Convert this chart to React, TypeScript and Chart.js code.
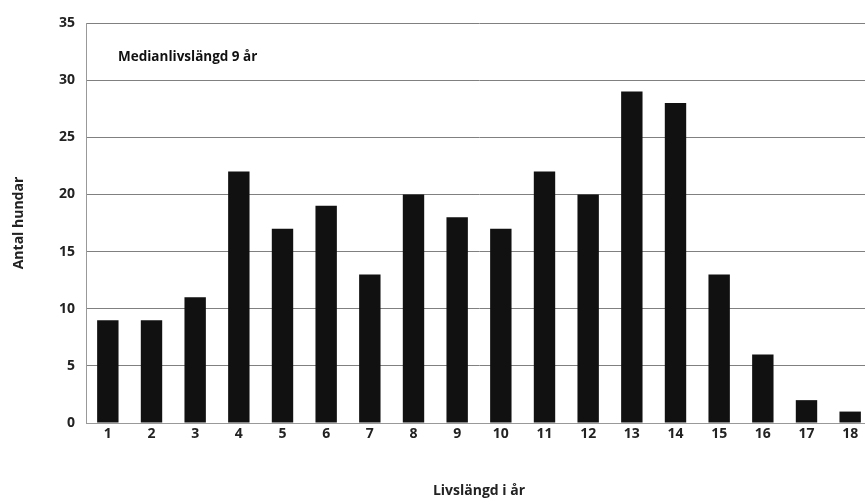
import React, { useEffect, useRef } from "react";
import { Chart, registerables } from "chart.js";

Chart.register(...registerables);

const categories = ["1", "2", "3", "4", "5", "6", "7", "8", "9", "10", "11", "12", "13", "14", "15", "16", "17", "18"];
const dogCounts = [9, 9, 11, 22, 17, 19, 13, 20, 18, 17, 22, 20, 29, 28, 13, 6, 2, 1];
const yTicks = [0, 5, 10, 15, 20, 25, 30, 35];
const annotationText = "Medianlivslängd 9 år";
const xTitle = "Livslängd i år";
const yTitle = "Antal hundar";

const FONT = "'Open Sans', 'DejaVu Sans', sans-serif";

const annotationPlugin = {
  id: "medianNote",
  afterDatasetsDraw(chart: any) {
    const { ctx, chartArea } = chart;
    ctx.save();
    ctx.font = `bold 13.5px ${FONT}`;
    ctx.fillStyle = "#111";
    ctx.textBaseline = "middle";
    ctx.textAlign = "left";
    ctx.fillText(annotationText, chartArea.left + 32, chartArea.top + 34);
    ctx.restore();
  },
};

const bgPlugin = {
  id: "bg",
  beforeDraw(chart: any) {
    const { ctx, width, height } = chart;
    ctx.save();
    ctx.fillStyle = "#fff";
    ctx.fillRect(0, 0, width, height);
    ctx.restore();
  },
};

export default function App() {
  const ref = useRef<HTMLCanvasElement | null>(null);
  useEffect(() => {
    document.body.style.margin = "0";
    document.body.style.overflow = "hidden";
    if (!ref.current) return;
    const chart = new Chart(ref.current, {
      type: "bar",
      data: {
        labels: categories,
        datasets: [
          {
            data: dogCounts,
            backgroundColor: "#111",
            borderWidth: 0,
            barPercentage: 0.49,
            categoryPercentage: 1,
          },
        ],
      },
      plugins: [bgPlugin, annotationPlugin],
      options: {
        animation: false,
        responsive: false,
        maintainAspectRatio: false,
        layout: { padding: { top: 23, right: 8, left: 0, bottom: 0 } },
        plugins: { legend: { display: false }, tooltip: { enabled: false } },
        scales: {
          x: {
            offset: true,
            grid: { display: false, drawTicks: false },
            border: { display: true, color: "#999", width: 1 },
            ticks: {
              color: "#222",
              font: { family: FONT, size: 14, weight: "bold" },
              padding: 3,
              maxRotation: 0,
              autoSkip: false,
            },
            title: {
              display: true,
              text: xTitle,
              color: "#222",
              font: { family: FONT, size: 14, weight: "bold" },
              padding: { top: 0, bottom: 1 },
            },
            afterFit(scale: any) {
              scale.height = 77;
            },
          },
          y: {
            min: 0,
            max: 35,
            afterBuildTicks(scale: any) {
              scale.ticks = yTicks.map((v) => ({ value: v }));
            },
            grid: { color: "#808080", lineWidth: 1, drawTicks: false },
            border: { display: true, color: "#999", width: 1 },
            ticks: {
              color: "#222",
              font: { family: FONT, size: 14, weight: "bold" },
              padding: 11,
            },
            title: {
              display: true,
              text: yTitle,
              color: "#222",
              font: { family: FONT, size: 14, weight: "bold" },
              padding: { top: 11, bottom: 0 },
            },
            afterFit(scale: any) {
              scale.width = 86;
            },
          },
        },
      },
    });
    return () => chart.destroy();
  }, []);
  return (
    <div style={{ position: "fixed", left: 0, top: 0, width: 865, height: 500, overflow: "hidden", background: "#fff" }}>
      <canvas ref={ref} width={880} height={500} style={{ width: 880, height: 500, display: "block" }} />
    </div>
  );
}
